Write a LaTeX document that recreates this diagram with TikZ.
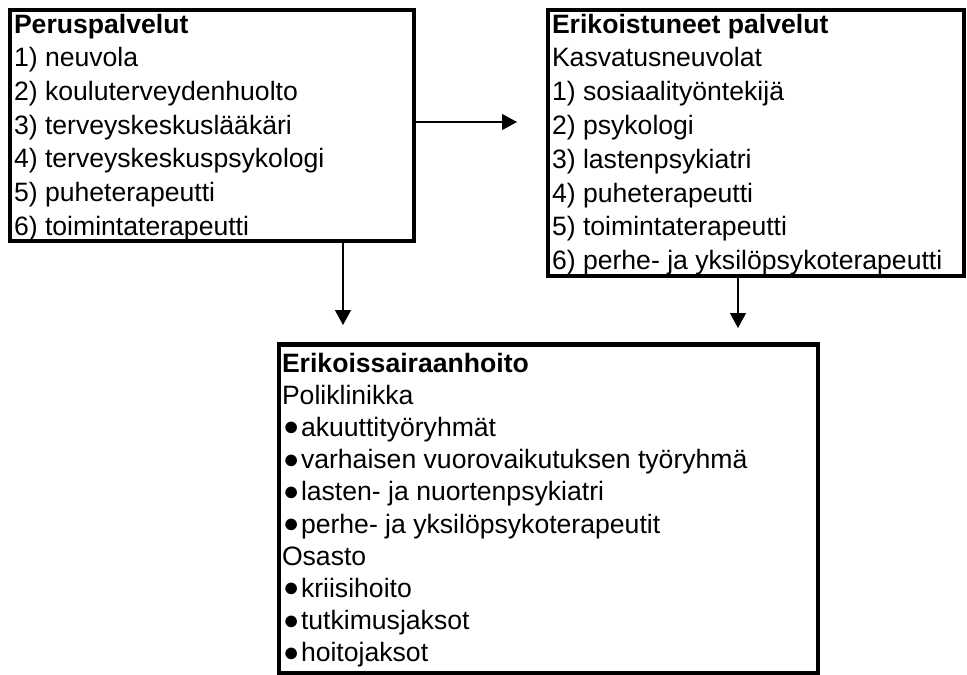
\documentclass[tikz,border=0pt]{standalone}
\usepackage{fontspec}
\setmainfont{Liberation Sans}
\usetikzlibrary{arrows.meta}
\newcommand\blt{\makebox[19pt][l]{\hspace*{1pt}\raisebox{0.5pt}{\fontsize{27}{27}\selectfont ●}}}
\begin{document}
\frenchspacing
\begin{tikzpicture}[x=1pt,y=-1pt,
  box/.style={draw,line width=4.5pt,anchor=north west,outer sep=0pt,
    inner ysep=0pt,align=flush left},
  conn/.style={line width=1.3pt,-{Triangle[length=15pt,width=16pt]}}]
\useasboundingbox (0,0) rectangle (967,675);
\node[box,inner xsep=4pt,text width=396pt,text height=23pt,text depth=208pt,
  font=\fontsize{26.6}{33.7}\selectfont] (b1) at (10,10)
 {\textbf{Peruspalvelut}\\
  1) neuvola\\
  2) kouluterveydenhuolto\\
  3) terveyskeskuslääkäri\\
  4) terveyskeskuspsykologi\\
  5) puheterapeutti\\
  6) toimintaterapeutti};
\node[box,inner xsep=4pt,text width=408pt,text height=23pt,text depth=243pt,
  font=\fontsize{26.6}{33.8}\selectfont] (b2) at (548,10)
 {\textbf{Erikoistuneet palvelut}\\
  Kasvatusneuvolat\\
  1) sosiaalityöntekijä\\
  2) psykologi\\
  3) lastenpsykiatri\\
  4) puheterapeutti\\
  5) toimintaterapeutti\\
  6) perhe- ja yksilöpsykoterapeutti};
\node[box,inner xsep=3pt,text width=533pt,text height=27.5pt,text depth=301pt,
  font=\fontsize{26.6}{32.2}\selectfont] (b3) at (279,344.5)
 {\textbf{Erikoissairaanhoito}\\
  Poliklinikka\\
  \blt akuuttityöryhmät\\
  \blt varhaisen vuorovaikutuksen työryhmä\\
  \blt lasten- ja nuortenpsykiatri\\
  \blt perhe- ja yksilöpsykoterapeutit\\
  Osasto\\
  \blt kriisihoito\\
  \blt tutkimusjaksot\\
  \blt hoitojaksot};
\coordinate (t1) at (517,122);
\coordinate (t2) at (343,325);
\coordinate (t3) at (738,328);
\draw[conn] (b1.east |- t1) -- (t1);
\draw[conn] (b1.south -| t2) -- (t2);
\draw[conn] (b2.south -| t3) -- (t3);
\end{tikzpicture}
\end{document}
